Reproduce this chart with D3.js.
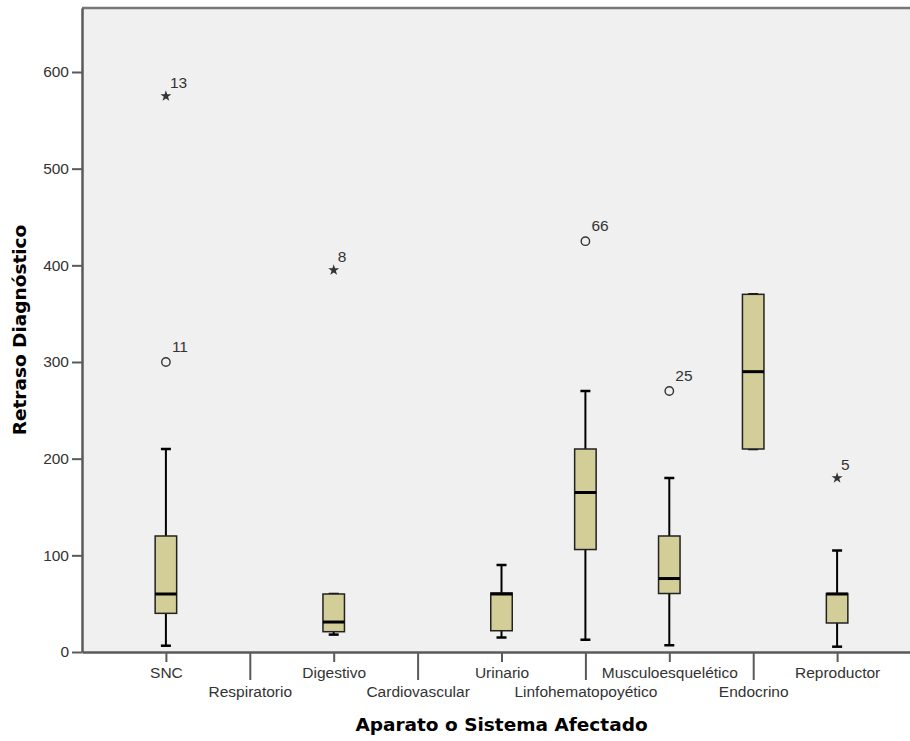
<!DOCTYPE html>
<html><head><meta charset="utf-8">
<script src="https://cdn.jsdelivr.net/npm/d3@7"></script>
<style>body{margin:0;background:#fff}svg{display:block}</style>
</head><body><svg id="c" width="910" height="741"></svg>
<script>
const categories = ["SNC","Respiratorio","Digestivo","Cardiovascular","Urinario","Linfohematopoyético","Musculoesquelético","Endocrino","Reproductor"];
// [whiskerLow, Q1, median, Q3, whiskerHigh] ; null = no data
const boxStats = [
  [6.5, 40, 60, 120, 210],
  null,
  [18, 21, 31, 60, 60],
  null,
  [15, 22, 60, 61, 90],
  [12.7, 106, 165, 210, 270],
  [7, 60.5, 76, 120, 180],
  [210, 210, 290, 370, 370],
  [5.5, 30, 60, 60.5, 105]
];
// outliers: category, value, case label, type (circle = outlier, star = extreme)
const outliers = [
  {cat:"SNC", value:575, label:"13", type:"star"},
  {cat:"SNC", value:300, label:"11", type:"circle"},
  {cat:"Digestivo", value:395, label:"8", type:"star"},
  {cat:"Linfohematopoyético", value:425, label:"66", type:"circle"},
  {cat:"Musculoesquelético", value:270, label:"25", type:"circle"},
  {cat:"Reproductor", value:180, label:"5", type:"star"}
];
const yTicks = [0,100,200,300,400,500,600];

const svg = d3.select("#c");
const L = 82, R = 921, T = 8, B = 652;
const x = d3.scalePoint().domain(categories).range([L, R]).padding(1);
const y = d3.scaleLinear().domain([0, 666.2]).range([B, T]);

svg.append("rect").attr("x", L).attr("y", T).attr("width", R - L).attr("height", B - T)
  .attr("fill", "#f0f0f0");
svg.append("line").attr("x1", L).attr("x2", R).attr("y1", T).attr("y2", T)
  .attr("stroke", "#777").attr("stroke-width", 2.5);

const font = "Liberation Sans, Arial, sans-serif";
const fs = 15.5;
const axisColor = "#5a5a5a";

// Y axis
const ya = svg.append("g").attr("transform", `translate(${L},0)`)
  .call(d3.axisLeft(y).tickValues(yTicks).tickSize(10).tickPadding(3).tickSizeOuter(0));
ya.select(".domain").attr("stroke", axisColor).attr("stroke-width", 2.5);
ya.selectAll(".tick line").attr("stroke", axisColor).attr("stroke-width", 2);
ya.selectAll(".tick text").attr("font-family", font).attr("font-size", fs).attr("fill", "#333");

// X axis
const xa = svg.append("g").attr("transform", `translate(0,${B})`)
  .call(d3.axisBottom(x).tickSizeOuter(0));
xa.select(".domain").attr("stroke", axisColor).attr("stroke-width", 2.5);
xa.selectAll(".tick line").attr("stroke", axisColor).attr("stroke-width", 2)
  .attr("y2", (d, i) => i % 2 ? 28 : 10);
xa.selectAll(".tick text").attr("font-family", font).attr("font-size", fs).attr("fill", "#333")
  .attr("dy", null).attr("y", (d, i) => i % 2 ? 44.5 : 25.5);

// Boxes
const bw = 21.5, cw = 10;
const g = svg.append("g");
categories.forEach((c, i) => {
  const s = boxStats[i];
  if (!s) return;
  const cx = x(c);
  const [lo, q1, med, q3, hi] = s;
  if (hi > q3) {
    g.append("line").attr("x1", cx).attr("x2", cx).attr("y1", y(q3)).attr("y2", y(hi)).attr("stroke", "#000").attr("stroke-width", 2);
  }
  if (lo < q1) {
    g.append("line").attr("x1", cx).attr("x2", cx).attr("y1", y(q1)).attr("y2", y(lo)).attr("stroke", "#000").attr("stroke-width", 2);
  }
  g.append("line").attr("x1", cx - cw/2).attr("x2", cx + cw/2).attr("y1", y(hi)).attr("y2", y(hi)).attr("stroke", "#000").attr("stroke-width", 2.5);
  g.append("line").attr("x1", cx - cw/2).attr("x2", cx + cw/2).attr("y1", y(lo)).attr("y2", y(lo)).attr("stroke", "#000").attr("stroke-width", 2.5);
  g.append("rect").attr("x", cx - bw/2).attr("width", bw).attr("y", y(q3)).attr("height", y(q1) - y(q3))
    .attr("fill", "#d3ce97").attr("stroke", "#222").attr("stroke-width", 1.5);
  g.append("line").attr("x1", cx - bw/2).attr("x2", cx + bw/2).attr("y1", y(med)).attr("y2", y(med)).attr("stroke", "#000").attr("stroke-width", 3);
});

// Outliers
const star = d3.symbol().type(d3.symbolStar).size(38);
outliers.forEach(o => {
  const cx = x(o.cat), cy = y(o.value);
  if (o.type === "star") {
    g.append("path").attr("d", star()).attr("transform", `translate(${cx},${cy})`).attr("fill", "#333");
    g.append("text").attr("x", cx + 4).attr("y", cy - 8).text(o.label)
      .attr("font-family", font).attr("font-size", fs).attr("fill", "#333");
  } else {
    g.append("circle").attr("cx", cx).attr("cy", cy).attr("r", 4.2).attr("fill", "none").attr("stroke", "#333").attr("stroke-width", 1.4);
    g.append("text").attr("x", cx + 6).attr("y", cy - 10).text(o.label)
      .attr("font-family", font).attr("font-size", fs).attr("fill", "#333");
  }
});

// Titles
const tfs = 18.5;
svg.append("text").attr("x", (L + R) / 2).attr("y", 731).attr("text-anchor", "middle")
  .attr("font-family", "DejaVu Sans, Verdana, sans-serif").attr("font-weight", "bold").attr("font-size", tfs)
  .attr("fill", "#000").text("Aparato o Sistema Afectado");
svg.append("text").attr("transform", `translate(26,${(T + B) / 2}) rotate(-90)`).attr("text-anchor", "middle")
  .attr("font-family", "DejaVu Sans, Verdana, sans-serif").attr("font-weight", "bold").attr("font-size", tfs)
  .attr("fill", "#000").text("Retraso Diagnóstico");
</script></body></html>
